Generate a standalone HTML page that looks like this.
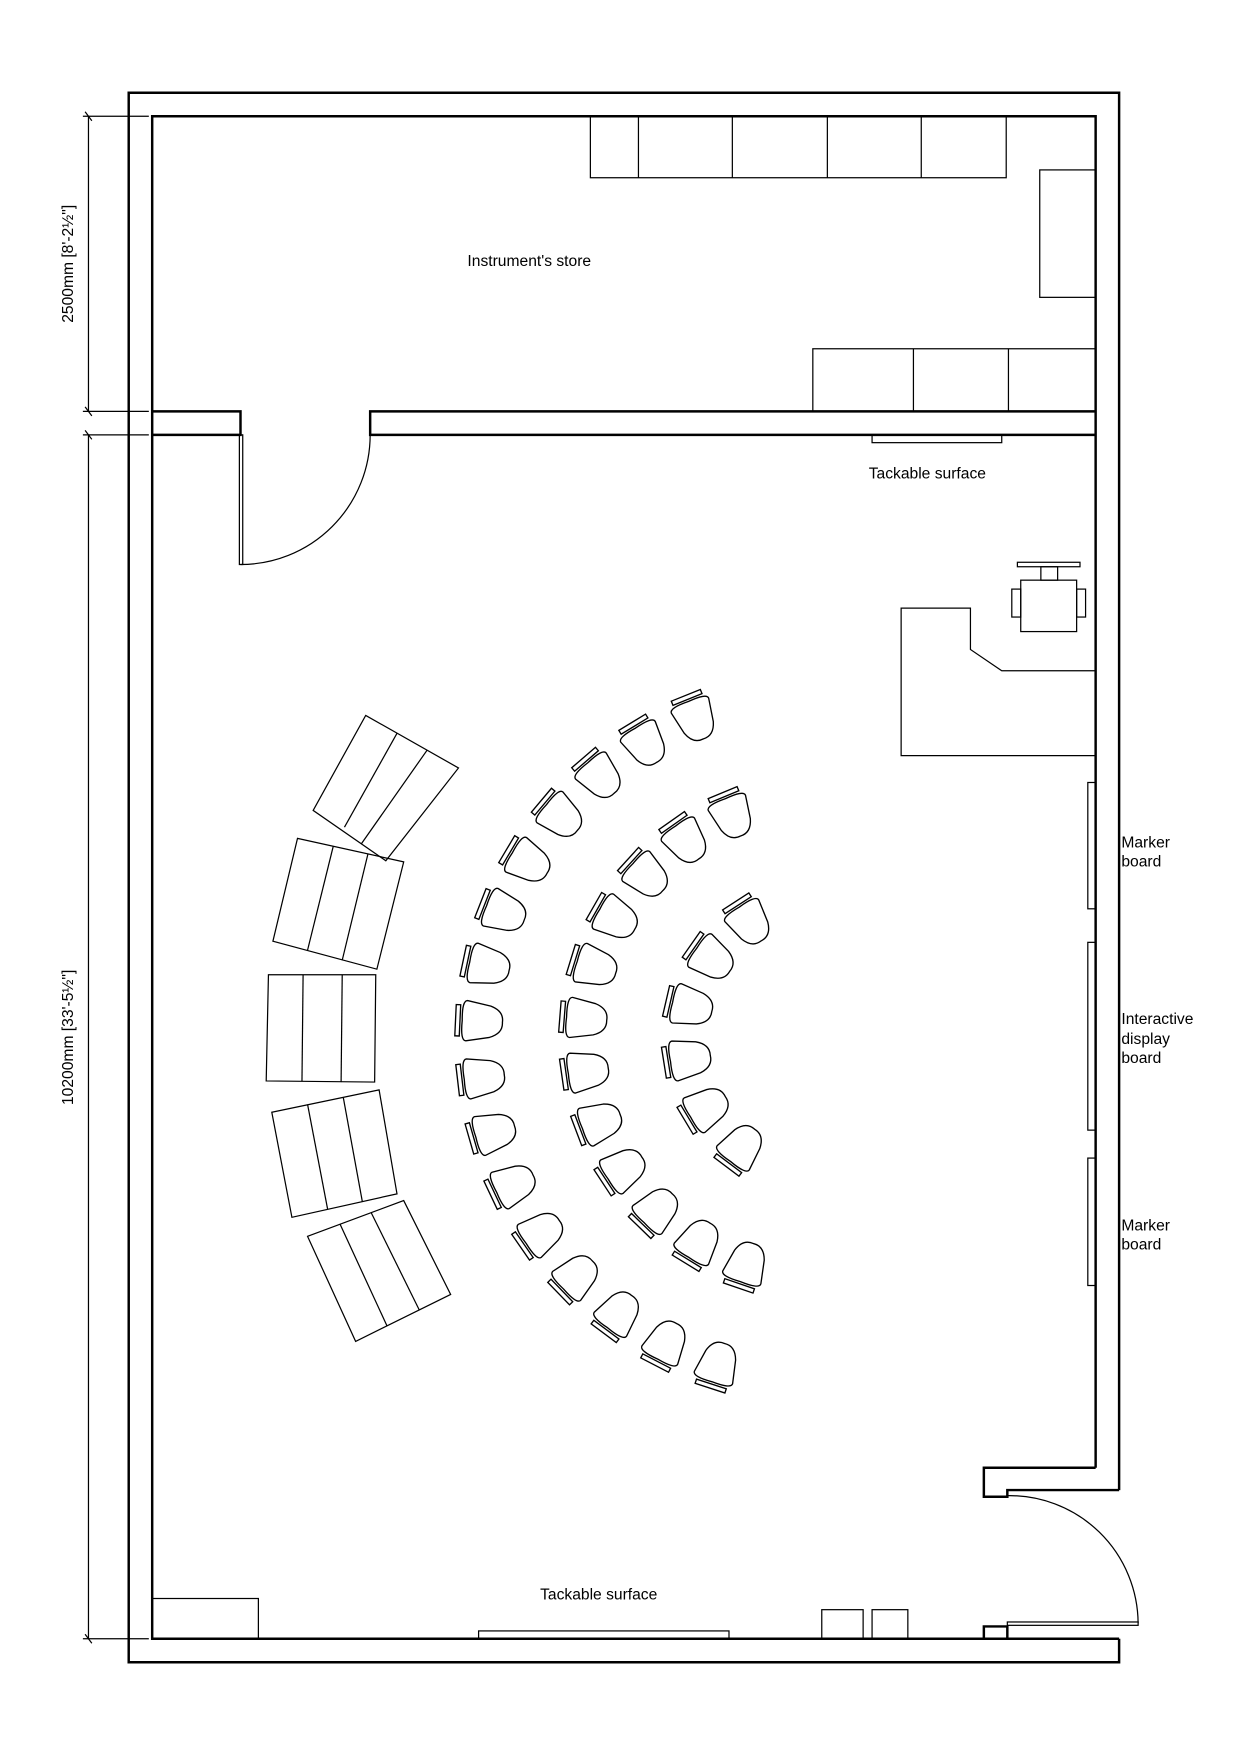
<!DOCTYPE html>
<html><head><meta charset="utf-8"><style>
html,body{margin:0;padding:0;background:#fff;width:1240px;height:1755px;overflow:hidden;}
svg{display:block;}
text{font-family:"Liberation Sans",sans-serif;font-size:14px;fill:#000;}
</style></head><body>
<svg width="1240" height="1755" viewBox="0 0 1109 1570" xmlns="http://www.w3.org/2000/svg" xmlns:xlink="http://www.w3.org/1999/xlink">
<rect width="1109" height="1570" fill="#fff"/>
<g fill="none" stroke="#000" stroke-width="2.2">
<polyline points="1001,1333 1001,83 115,83 115,1487 1001,1487 1001,1466"/>
<polyline points="980,1313 980,104 136,104 136,1466 1001,1466"/>
<polyline points="136,368 215,368 215,389 136,389"/>
<polyline points="980,368 331,368 331,389 980,389"/>
<polyline points="980,1313 880,1313 880,1339 901,1339 901,1333 1001,1333"/>
<polyline points="880,1466 880,1455 901,1455 901,1466"/>
</g>
<g fill="none" stroke="#000" stroke-width="1.1">
<rect x="214" y="389" width="3" height="116"/>
<path d="M215,505 A116,116 0 0 0 331,389"/>
<rect x="901" y="1451" width="117" height="3"/>
<path d="M901,1338 A115,115 0 0 1 1018,1452"/>
<rect x="528" y="104" width="372" height="55"/>
<line x1="571" y1="104" x2="571" y2="159"/><line x1="655" y1="104" x2="655" y2="159"/>
<line x1="740" y1="104" x2="740" y2="159"/><line x1="824" y1="104" x2="824" y2="159"/>
<rect x="930" y="152" width="50" height="114"/>
<rect x="727" y="312" width="253" height="56"/>
<line x1="817" y1="312" x2="817" y2="368"/><line x1="902" y1="312" x2="902" y2="368"/>
<rect x="780" y="389" width="116" height="7"/>
<polygon points="806,544 868,544 868,581 896,600 980,600 980,676 806,676"/>
<rect x="913" y="519" width="50" height="46"/>
<rect x="910" y="503" width="56" height="4"/>
<rect x="931" y="507" width="15" height="12"/>
<rect x="905" y="527" width="8" height="25"/>
<rect x="963" y="527" width="8" height="25"/>
<rect x="973" y="700" width="7" height="113"/>
<rect x="973" y="843" width="7" height="168"/>
<rect x="973" y="1036" width="7" height="114"/>
<rect x="136" y="1430" width="95" height="36"/>
<rect x="428" y="1459" width="224" height="7"/>
<rect x="735" y="1440" width="37" height="26"/>
<rect x="780" y="1440" width="32" height="26"/>
<polygon points="327,640 410,687 345,770 280,725"/>
<line x1="355" y1="656" x2="308" y2="740"/><line x1="382" y1="671" x2="323" y2="755"/>
<polygon points="266,750 361,771 337,867 244,842"/>
<line x1="298" y1="757" x2="275" y2="850"/><line x1="329" y1="764" x2="306" y2="859"/>
<polygon points="240,872 336,872 335,968 238,967"/>
<line x1="271" y1="872" x2="270" y2="967"/><line x1="306" y1="872" x2="305" y2="968"/>
<polygon points="243,995 339,975 355,1068 261,1089"/>
<line x1="275" y1="988" x2="293" y2="1082"/><line x1="307" y1="982" x2="324" y2="1075"/>
<polygon points="275,1106 361,1074 403,1158 318,1200"/>
<line x1="304" y1="1095" x2="346" y2="1186"/><line x1="332" y1="1085" x2="375" y2="1172"/>
<line x1="79" y1="104" x2="79" y2="368"/>
<line x1="79" y1="389" x2="79" y2="1466"/>
<line x1="74" y1="104" x2="133" y2="104"/><line x1="74" y1="368" x2="133" y2="368"/>
<line x1="74" y1="389" x2="133" y2="389"/><line x1="74" y1="1466" x2="133" y2="1466"/>
<line x1="76" y1="100" x2="82" y2="108"/><line x1="76" y1="364" x2="82" y2="372"/>
<line x1="76" y1="385" x2="82" y2="393"/><line x1="76" y1="1462" x2="82" y2="1470"/>
</g>
<g fill="none" stroke="#000" stroke-width="1.2">
<g transform="rotate(248 737 928) translate(1042 928)"><path d="M15,-18 Q20,-18 19,0 Q20,18 15,18 L-6,14 Q-18,10 -17,0 Q-18,-10 -6,-14 Z"/><rect x="21" y="-14" width="4" height="28"/></g>
<g transform="rotate(238.67 737 928) translate(1042 928)"><path d="M15,-18 Q20,-18 19,0 Q20,18 15,18 L-6,14 Q-18,10 -17,0 Q-18,-10 -6,-14 Z"/><rect x="21" y="-14" width="4" height="28"/></g>
<g transform="rotate(229.33 737 928) translate(1042 928)"><path d="M15,-18 Q20,-18 19,0 Q20,18 15,18 L-6,14 Q-18,10 -17,0 Q-18,-10 -6,-14 Z"/><rect x="21" y="-14" width="4" height="28"/></g>
<g transform="rotate(220 737 928) translate(1042 928)"><path d="M15,-18 Q20,-18 19,0 Q20,18 15,18 L-6,14 Q-18,10 -17,0 Q-18,-10 -6,-14 Z"/><rect x="21" y="-14" width="4" height="28"/></g>
<g transform="rotate(210.67 737 928) translate(1042 928)"><path d="M15,-18 Q20,-18 19,0 Q20,18 15,18 L-6,14 Q-18,10 -17,0 Q-18,-10 -6,-14 Z"/><rect x="21" y="-14" width="4" height="28"/></g>
<g transform="rotate(201.33 737 928) translate(1042 928)"><path d="M15,-18 Q20,-18 19,0 Q20,18 15,18 L-6,14 Q-18,10 -17,0 Q-18,-10 -6,-14 Z"/><rect x="21" y="-14" width="4" height="28"/></g>
<g transform="rotate(192 737 928) translate(1042 928)"><path d="M15,-18 Q20,-18 19,0 Q20,18 15,18 L-6,14 Q-18,10 -17,0 Q-18,-10 -6,-14 Z"/><rect x="21" y="-14" width="4" height="28"/></g>
<g transform="rotate(182.67 737 928) translate(1042 928)"><path d="M15,-18 Q20,-18 19,0 Q20,18 15,18 L-6,14 Q-18,10 -17,0 Q-18,-10 -6,-14 Z"/><rect x="21" y="-14" width="4" height="28"/></g>
<g transform="rotate(173.33 737 928) translate(1042 928)"><path d="M15,-18 Q20,-18 19,0 Q20,18 15,18 L-6,14 Q-18,10 -17,0 Q-18,-10 -6,-14 Z"/><rect x="21" y="-14" width="4" height="28"/></g>
<g transform="rotate(164 737 928) translate(1042 928)"><path d="M15,-18 Q20,-18 19,0 Q20,18 15,18 L-6,14 Q-18,10 -17,0 Q-18,-10 -6,-14 Z"/><rect x="21" y="-14" width="4" height="28"/></g>
<g transform="rotate(154.67 737 928) translate(1042 928)"><path d="M15,-18 Q20,-18 19,0 Q20,18 15,18 L-6,14 Q-18,10 -17,0 Q-18,-10 -6,-14 Z"/><rect x="21" y="-14" width="4" height="28"/></g>
<g transform="rotate(145.33 737 928) translate(1042 928)"><path d="M15,-18 Q20,-18 19,0 Q20,18 15,18 L-6,14 Q-18,10 -17,0 Q-18,-10 -6,-14 Z"/><rect x="21" y="-14" width="4" height="28"/></g>
<g transform="rotate(136 737 928) translate(1042 928)"><path d="M15,-18 Q20,-18 19,0 Q20,18 15,18 L-6,14 Q-18,10 -17,0 Q-18,-10 -6,-14 Z"/><rect x="21" y="-14" width="4" height="28"/></g>
<g transform="rotate(126.67 737 928) translate(1042 928)"><path d="M15,-18 Q20,-18 19,0 Q20,18 15,18 L-6,14 Q-18,10 -17,0 Q-18,-10 -6,-14 Z"/><rect x="21" y="-14" width="4" height="28"/></g>
<g transform="rotate(117.33 737 928) translate(1042 928)"><path d="M15,-18 Q20,-18 19,0 Q20,18 15,18 L-6,14 Q-18,10 -17,0 Q-18,-10 -6,-14 Z"/><rect x="21" y="-14" width="4" height="28"/></g>
<g transform="rotate(108 737 928) translate(1042 928)"><path d="M15,-18 Q20,-18 19,0 Q20,18 15,18 L-6,14 Q-18,10 -17,0 Q-18,-10 -6,-14 Z"/><rect x="21" y="-14" width="4" height="28"/></g>
<g transform="rotate(247.5 737 928) translate(949 928)"><path d="M15,-18 Q20,-18 19,0 Q20,18 15,18 L-6,14 Q-18,10 -17,0 Q-18,-10 -6,-14 Z"/><rect x="21" y="-14" width="4" height="28"/></g>
<g transform="rotate(234.9 737 928) translate(949 928)"><path d="M15,-18 Q20,-18 19,0 Q20,18 15,18 L-6,14 Q-18,10 -17,0 Q-18,-10 -6,-14 Z"/><rect x="21" y="-14" width="4" height="28"/></g>
<g transform="rotate(222.3 737 928) translate(949 928)"><path d="M15,-18 Q20,-18 19,0 Q20,18 15,18 L-6,14 Q-18,10 -17,0 Q-18,-10 -6,-14 Z"/><rect x="21" y="-14" width="4" height="28"/></g>
<g transform="rotate(209.7 737 928) translate(949 928)"><path d="M15,-18 Q20,-18 19,0 Q20,18 15,18 L-6,14 Q-18,10 -17,0 Q-18,-10 -6,-14 Z"/><rect x="21" y="-14" width="4" height="28"/></g>
<g transform="rotate(197.1 737 928) translate(949 928)"><path d="M15,-18 Q20,-18 19,0 Q20,18 15,18 L-6,14 Q-18,10 -17,0 Q-18,-10 -6,-14 Z"/><rect x="21" y="-14" width="4" height="28"/></g>
<g transform="rotate(184.5 737 928) translate(949 928)"><path d="M15,-18 Q20,-18 19,0 Q20,18 15,18 L-6,14 Q-18,10 -17,0 Q-18,-10 -6,-14 Z"/><rect x="21" y="-14" width="4" height="28"/></g>
<g transform="rotate(171.9 737 928) translate(949 928)"><path d="M15,-18 Q20,-18 19,0 Q20,18 15,18 L-6,14 Q-18,10 -17,0 Q-18,-10 -6,-14 Z"/><rect x="21" y="-14" width="4" height="28"/></g>
<g transform="rotate(159.3 737 928) translate(949 928)"><path d="M15,-18 Q20,-18 19,0 Q20,18 15,18 L-6,14 Q-18,10 -17,0 Q-18,-10 -6,-14 Z"/><rect x="21" y="-14" width="4" height="28"/></g>
<g transform="rotate(146.7 737 928) translate(949 928)"><path d="M15,-18 Q20,-18 19,0 Q20,18 15,18 L-6,14 Q-18,10 -17,0 Q-18,-10 -6,-14 Z"/><rect x="21" y="-14" width="4" height="28"/></g>
<g transform="rotate(134.1 737 928) translate(949 928)"><path d="M15,-18 Q20,-18 19,0 Q20,18 15,18 L-6,14 Q-18,10 -17,0 Q-18,-10 -6,-14 Z"/><rect x="21" y="-14" width="4" height="28"/></g>
<g transform="rotate(121.5 737 928) translate(949 928)"><path d="M15,-18 Q20,-18 19,0 Q20,18 15,18 L-6,14 Q-18,10 -17,0 Q-18,-10 -6,-14 Z"/><rect x="21" y="-14" width="4" height="28"/></g>
<g transform="rotate(108.9 737 928) translate(949 928)"><path d="M15,-18 Q20,-18 19,0 Q20,18 15,18 L-6,14 Q-18,10 -17,0 Q-18,-10 -6,-14 Z"/><rect x="21" y="-14" width="4" height="28"/></g>
<g transform="rotate(237 737 928) translate(857 928)"><path d="M15,-18 Q20,-18 19,0 Q20,18 15,18 L-6,14 Q-18,10 -17,0 Q-18,-10 -6,-14 Z"/><rect x="21" y="-14" width="4" height="28"/></g>
<g transform="rotate(215 737 928) translate(857 928)"><path d="M15,-18 Q20,-18 19,0 Q20,18 15,18 L-6,14 Q-18,10 -17,0 Q-18,-10 -6,-14 Z"/><rect x="21" y="-14" width="4" height="28"/></g>
<g transform="rotate(193 737 928) translate(857 928)"><path d="M15,-18 Q20,-18 19,0 Q20,18 15,18 L-6,14 Q-18,10 -17,0 Q-18,-10 -6,-14 Z"/><rect x="21" y="-14" width="4" height="28"/></g>
<g transform="rotate(171 737 928) translate(857 928)"><path d="M15,-18 Q20,-18 19,0 Q20,18 15,18 L-6,14 Q-18,10 -17,0 Q-18,-10 -6,-14 Z"/><rect x="21" y="-14" width="4" height="28"/></g>
<g transform="rotate(149 737 928) translate(857 928)"><path d="M15,-18 Q20,-18 19,0 Q20,18 15,18 L-6,14 Q-18,10 -17,0 Q-18,-10 -6,-14 Z"/><rect x="21" y="-14" width="4" height="28"/></g>
<g transform="rotate(127 737 928) translate(857 928)"><path d="M15,-18 Q20,-18 19,0 Q20,18 15,18 L-6,14 Q-18,10 -17,0 Q-18,-10 -6,-14 Z"/><rect x="21" y="-14" width="4" height="28"/></g>
</g>
<text x="418" y="238">Instrument's store</text>
<text x="777" y="428">Tackable surface</text>
<text x="483" y="1431">Tackable surface</text>
<text x="1003" y="758">Marker</text><text x="1003" y="775">board</text>
<text x="1003" y="916">Interactive</text><text x="1003" y="934">display</text><text x="1003" y="951">board</text>
<text x="1003" y="1101">Marker</text><text x="1003" y="1118">board</text>
<text transform="translate(65 236) rotate(-90)" text-anchor="middle">2500mm [8'-2½"]</text>
<text transform="translate(65 928) rotate(-90)" text-anchor="middle">10200mm [33'-5½"]</text>
</svg>
</body></html>
